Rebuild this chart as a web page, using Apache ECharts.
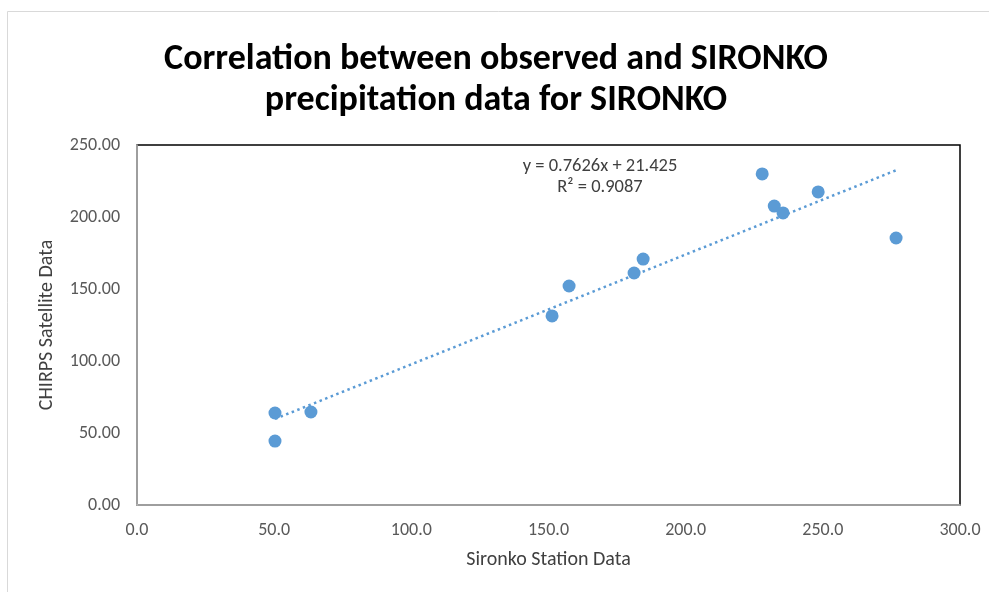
<!DOCTYPE html>
<html>
<head>
<meta charset="utf-8">
<script src="https://cdn.jsdelivr.net/npm/echarts@6/dist/echarts.min.js"></script>
<style>
  html, body { margin: 0; padding: 0; background: #fff; }
  #chart { width: 989px; height: 592px; }
</style>
</head>
<body>
<div id="chart"></div>
<script>
// Station observations (x) against CHIRPS satellite estimates (y)
const stationData = [50.3, 50.3, 63.4, 151.3, 157.5, 181.2, 184.5, 227.9, 232.3, 235.5, 248.3, 276.7];
const satelliteData = [44.4, 63.9, 64.6, 131.3, 152.1, 161.1, 170.8, 229.9, 207.6, 202.8, 217.4, 185.4];

// Linear trendline coefficients
const slope = 0.7626;
const intercept = 21.425;
const rSquared = 0.9087;

const xTicks = [0, 50, 100, 150, 200, 250, 300];
const yTicks = [0, 50, 100, 150, 200, 250];

const points = stationData.map((x, i) => [x, satelliteData[i]]);
const xMin = Math.min(...stationData);
const xMax = Math.max(...stationData);
const trend = [[xMin, slope * xMin + intercept], [xMax, slope * xMax + intercept]];

const labelFont = "Carlito, 'Liberation Sans Narrow', 'Liberation Sans', sans-serif";
const blue = '#5B9BD5';

const chart = echarts.init(document.getElementById('chart'));
chart.setOption({
  animation: false,
  backgroundColor: '#fff',
  title: {
    text: 'Correlation between observed and SIRONKO\nprecipitation data for SIRONKO',
    left: 491,
    textAlign: 'center',
    top: 34,
    textStyle: {
      fontFamily: labelFont,
      fontWeight: 'bold',
      fontSize: 36,
      lineHeight: 41,
      color: '#000'
    }
  },
  graphic: [
    {
      type: 'rect',
      shape: { x: 7.5, y: 11.5, width: 1000, height: 600 },
      style: { fill: 'none', stroke: '#D9D9D9', lineWidth: 1 },
      silent: true,
      z: -1
    },
    {
      type: 'text',
      x: 600,
      y: 156,
      style: {
        text: 'y = ' + slope + 'x + ' + intercept + '\nR² = ' + rSquared,
        font: '18.5px ' + labelFont,
        fill: '#404040',
        align: 'center',
        lineHeight: 21
      }
    }
  ],
  grid: {
    left: 137,
    top: 145,
    right: 29,
    bottom: 87,
    show: true,
    borderColor: '#000',
    borderWidth: 1.5,
    backgroundColor: 'transparent'
  },
  xAxis: {
    type: 'value',
    min: xTicks[0],
    max: xTicks[xTicks.length - 1],
    interval: 50,
    name: 'Sironko Station Data',
    nameLocation: 'middle',
    nameGap: 45,
    nameTextStyle: { fontFamily: labelFont, fontSize: 20, color: '#404040' },
    axisLine: { show: true, onZero: false, lineStyle: { color: '#BFBFBF', width: 1.5 } },
    axisTick: { show: false },
    splitLine: { show: false },
    axisLabel: {
      margin: 16,
      fontFamily: labelFont,
      fontSize: 18,
      color: '#595959',
      formatter: v => v.toFixed(1)
    }
  },
  yAxis: {
    type: 'value',
    min: yTicks[0],
    max: yTicks[yTicks.length - 1],
    interval: 50,
    name: 'CHIRPS Satellite Data',
    nameLocation: 'middle',
    nameGap: 80,
    nameTextStyle: { fontFamily: labelFont, fontSize: 20, color: '#404040' },
    axisLine: { show: true, onZero: false, lineStyle: { color: '#BFBFBF', width: 1.5 } },
    axisTick: { show: false },
    splitLine: { show: false },
    axisLabel: {
      margin: 17,
      fontFamily: labelFont,
      fontSize: 18,
      color: '#595959',
      formatter: v => v.toFixed(2)
    }
  },
  series: [
    {
      name: 'Trendline',
      type: 'line',
      data: trend,
      symbol: 'none',
      lineStyle: { color: blue, width: 2.5, type: [2.5, 3.5] },
      z: 2
    },
    {
      name: 'CHIRPS',
      type: 'scatter',
      data: points,
      symbolSize: 13,
      itemStyle: { color: blue, opacity: 1 },
      z: 3
    }
  ]
});
</script>
</body>
</html>
